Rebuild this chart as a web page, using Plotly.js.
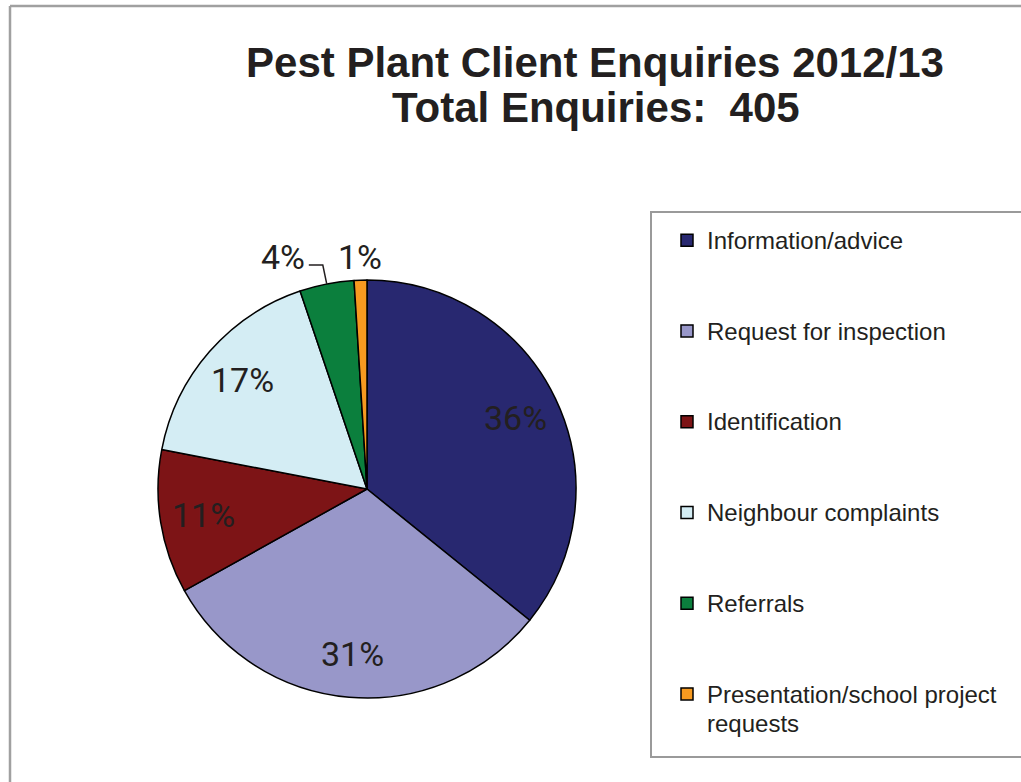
<!DOCTYPE html>
<html>
<head>
<meta charset="utf-8">
<script src="https://cdn.plot.ly/plotly-3.0.1.min.js"></script>
<style>html,body{margin:0;padding:0;background:#fff;}#chart{width:1021px;height:782px;}</style>
</head>
<body>
<div id="chart"></div>
<script>
const categories = ["Information/advice", "Request for inspection", "Identification", "Neighbour complaints", "Referrals", "Presentation/school project requests"];
const enquiries = [145, 126, 45, 68, 17, 4];
const sliceColors = ["#282870", "#9897c9", "#7d1416", "#d4edf4", "#0b7f3d", "#f79a20"];
const titleLine1 = "Pest Plant Client Enquiries 2012/13";
const totalLabel = "Total Enquiries:";

const W = 1021, H = 782;
const cx = 367, cy = 489, R = 209;   // pie geometry in pixels
const px = x => x / W;
const py = y => 1 - y / H;

const total = enquiries.reduce((a, b) => a + b, 0);
const legendLabels = categories.map(c => {
  let t;
  if (c.length > 24) {
    const parts = c.split(" ");
    const last = parts.pop();
    t = parts.join(" ") + "<br>" + last + "<br> ";
  } else {
    t = c + "<br> <br> ";
  }
  return t.split("<br>").map(s => '<span style="font-size:24px">' + s + '</span>').join("<br>");
});

// slice mid-angles (degrees clockwise from 12 o'clock) from the data
let cum = 0;
const midAngles = enquiries.map(v => { const m = (cum + v / 2) / total * 360; cum += v; return m; });
const pctText = enquiries.map(v => Math.round(v / total * 100) + "%");

const labelFont = {family: "Roboto, Liberation Sans, sans-serif", size: 34, color: "#231f20"};
const annotations = [];
const shapes = [];
enquiries.forEach((v, i) => {
  const a = midAngles[i] * Math.PI / 180;
  if (v / total >= 0.08) {
    const rr = 0.79 * R;
    annotations.push({text: pctText[i], xref: "paper", yref: "paper",
      x: px(cx + rr * Math.sin(a)), y: py(cy - rr * Math.cos(a)),
      xanchor: "center", yanchor: "middle", showarrow: false, font: labelFont});
  }
});
// small outside slices (last two)
const iSmall = enquiries.length - 1, iRef = enquiries.length - 2;
{
  const a = midAngles[iSmall] * Math.PI / 180;
  const rr = 1.11 * R;
  const lx = cx + rr * Math.sin(a), ly = cy - rr * Math.cos(a);
  annotations.push({text: pctText[iSmall], xref: "paper", yref: "paper", x: px(lx), y: py(ly),
    xanchor: "center", yanchor: "middle", showarrow: false, font: labelFont});
  const tx = lx - 77, ty = ly;
  annotations.push({text: pctText[iRef], xref: "paper", yref: "paper", x: px(tx), y: py(ty),
    xanchor: "center", yanchor: "middle", showarrow: false, font: labelFont});
  const b = midAngles[iRef] * Math.PI / 180;
  const ex = cx + R * Math.sin(b), ey = cy - R * Math.cos(b);
  const sx = tx + 26, sy = ty + 8;
  shapes.push({type: "path", xref: "paper", yref: "paper",
    path: "M" + px(sx) + "," + py(sy) + " L" + px(sx + 14) + "," + py(sy) + " L" + px(ex) + "," + py(ey),
    line: {color: "#231f20", width: 1.5}});
}

const trace = {
  type: "pie",
  labels: legendLabels,
  values: enquiries,
  sort: false,
  direction: "clockwise",
  rotation: 0,
  marker: {colors: sliceColors, line: {color: "#000", width: 1.5}},
  textinfo: "none",
  hoverinfo: "none",
  domain: {x: [px(cx - R), px(cx + R)], y: [py(cy + R), py(cy - R)]}
};

shapes.push(
  {type: "rect", xref: "paper", yref: "paper", x0: px(651), x1: 1.05, y0: py(757), y1: py(212), line: {color: "#9a9a9a", width: 2}},
  {type: "line", xref: "paper", yref: "paper", x0: px(10), x1: 1.05, y0: py(6), y1: py(6), line: {color: "#a0a0a0", width: 2.5}},
  {type: "line", xref: "paper", yref: "paper", x0: px(10), x1: px(10), y0: -0.05, y1: py(6), line: {color: "#a0a0a0", width: 2.5}}
);

annotations.push({
  text: "<b>" + totalLabel + "&nbsp;&nbsp;" + total + "</b>",
  xref: "paper", yref: "paper", x: px(596), y: py(108),
  xanchor: "center", yanchor: "middle", showarrow: false,
  font: {family: "Liberation Sans, Arial, sans-serif", size: 42, color: "#231f20"}
});

const layout = {
  width: W, height: H,
  margin: {l: 0, r: 0, t: 0, b: 0, autoexpand: false},
  paper_bgcolor: "#fff",
  font: {family: "Liberation Sans, Arial, sans-serif", color: "#231f20"},
  title: {
    text: "<b>" + titleLine1 + "</b>",
    font: {family: "Liberation Sans, Arial, sans-serif", size: 42, color: "#231f20"},
    x: px(595), xanchor: "center", xref: "paper",
    y: py(62), yanchor: "middle", yref: "container"
  },
  annotations: annotations,
  showlegend: true,
  legend: {
    x: px(667), xanchor: "left", y: py(219), yanchor: "top",
    valign: "top", itemwidth: 30, borderwidth: 0, bgcolor: "rgba(0,0,0,0)",
    font: {family: "Liberation Sans, Arial, sans-serif", size: 22.5, color: "#231f20"},
    itemclick: false, itemdoubleclick: false
  },
  shapes: shapes
};

Plotly.newPlot("chart", [trace], layout, {displayModeBar: false, staticPlot: true});
</script>
</body>
</html>
